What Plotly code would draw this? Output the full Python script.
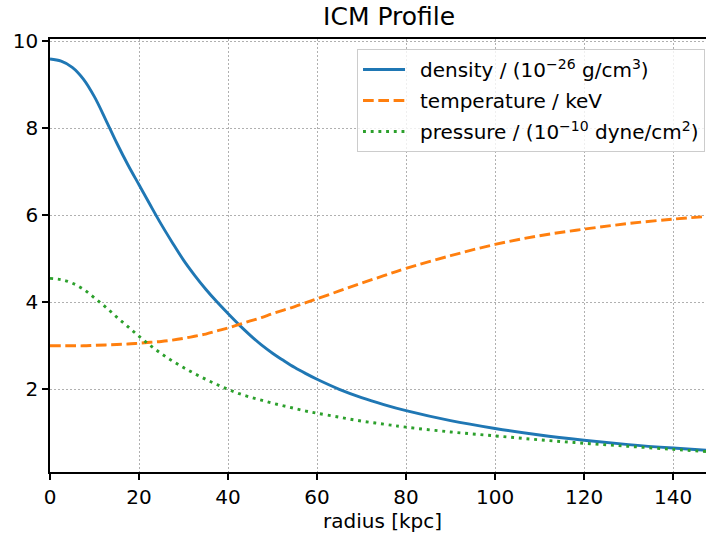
import plotly.graph_objects as go

# radius [kpc]
radius = [0, 2.5, 5, 7.5, 10, 12.5, 15, 17.5, 20, 22.5, 25, 27.5, 30, 32.5, 35,
          37.5, 40, 42.5, 45, 47.5, 50, 52.5, 55, 57.5, 60, 65, 70, 75, 80, 90,
          100, 110, 120, 130, 140, 147.4]
# density / (1e-26 g/cm^3)
density = [9.59, 9.54, 9.40, 9.13, 8.72, 8.20, 7.66, 7.16, 6.70, 6.24, 5.79,
           5.37, 4.97, 4.62, 4.30, 4.01, 3.74, 3.48, 3.24, 3.02, 2.83, 2.66,
           2.50, 2.36, 2.23, 2.00, 1.81, 1.65, 1.51, 1.28, 1.10, 0.95, 0.83,
           0.73, 0.65, 0.60]
# temperature / keV
temperature = [3.00, 3.00, 3.00, 3.00, 3.01, 3.02, 3.03, 3.04, 3.06, 3.08, 3.10,
               3.13, 3.17, 3.22, 3.27, 3.34, 3.41, 3.49, 3.57, 3.65, 3.74, 3.82,
               3.90, 3.99, 4.08, 4.26, 4.44, 4.61, 4.78, 5.07, 5.33, 5.53, 5.68,
               5.81, 5.91, 5.97]
# pressure / (1e-10 dyne/cm^2)
pressure = [4.55, 4.52, 4.44, 4.30, 4.10, 3.89, 3.66, 3.44, 3.22, 3.01, 2.82,
            2.65, 2.50, 2.36, 2.23, 2.11, 2.00, 1.90, 1.82, 1.75, 1.68, 1.62,
            1.56, 1.50, 1.45, 1.36, 1.27, 1.20, 1.13, 1.02, 0.93, 0.84, 0.76,
            0.69, 0.62, 0.57]

x_ticks = [0, 20, 40, 60, 80, 100, 120, 140]
y_ticks = [2, 4, 6, 8, 10]

names = ["\u2002density / (10<sup>\u221226</sup> g/cm<sup>3</sup>)",
         "\u2002temperature / keV",
         "\u2002pressure / (10<sup>\u221210</sup> dyne/cm<sup>2</sup>)"]

FONT = "DejaVu Sans"
FS = 20
fig = go.Figure()
fig.add_trace(go.Scatter(x=radius, y=density, mode="lines", name=names[0],
                         legendgroup="a",
                         line=dict(color="#1f77b4", width=2.9, shape="spline")))
fig.add_trace(go.Scatter(x=radius, y=temperature, mode="lines", name=names[1],
                         legendgroup="b",
                         line=dict(color="#ff7f0e", width=2.9, shape="spline",
                                   dash="10.7px,4.6px")))
fig.add_trace(go.Scatter(x=radius, y=pressure, mode="lines", name=names[2],
                         legendgroup="c",
                         line=dict(color="#2ca02c", width=2.9, shape="spline",
                                   dash="2.9px,4.8px")))

axis_common = dict(
    showline=True, linecolor="black", linewidth=1.5,
    ticks="outside", ticklen=6, tickwidth=1.5, tickcolor="black",
    showgrid=True, gridcolor="#b0b0b0", gridwidth=1.2, griddash="1.5px,2.5px",
    zeroline=False,
    tickfont=dict(family=FONT, size=FS, color="black"),
)

fig.update_layout(
    width=706, height=533,
    margin=dict(l=50, r=0, t=39, b=61),
    paper_bgcolor="white", plot_bgcolor="white",
    font=dict(family=FONT, size=FS, color="black"),
    title=dict(text="ICM Profile", x=0.517, xref="paper", xanchor="center",
               y=1 - 16 / 533, yref="container", yanchor="middle",
               font=dict(family=FONT, size=25, color="black")),
    xaxis=dict(range=[0, 147.4], tickvals=x_ticks, mirror=True, **axis_common),
    yaxis=dict(range=[0.10, 10.05], tickvals=y_ticks, **axis_common),
    legend=dict(x=0.9985, xanchor="right", y=0.977, yanchor="top",
                bgcolor="rgba(255,255,255,0.8)", bordercolor="#cccccc",
                borderwidth=1, itemwidth=42, tracegroupgap=2,
                font=dict(family=FONT, size=FS, color="black")),
    showlegend=True,
    annotations=[dict(text="radius [kpc]", xref="paper", yref="paper",
                      x=(383 - 50) / 656, y=-(521 - 472) / 433,
                      xanchor="center", yanchor="middle", showarrow=False,
                      font=dict(family=FONT, size=FS, color="black"))],
)

fig.write_html("out.html")
